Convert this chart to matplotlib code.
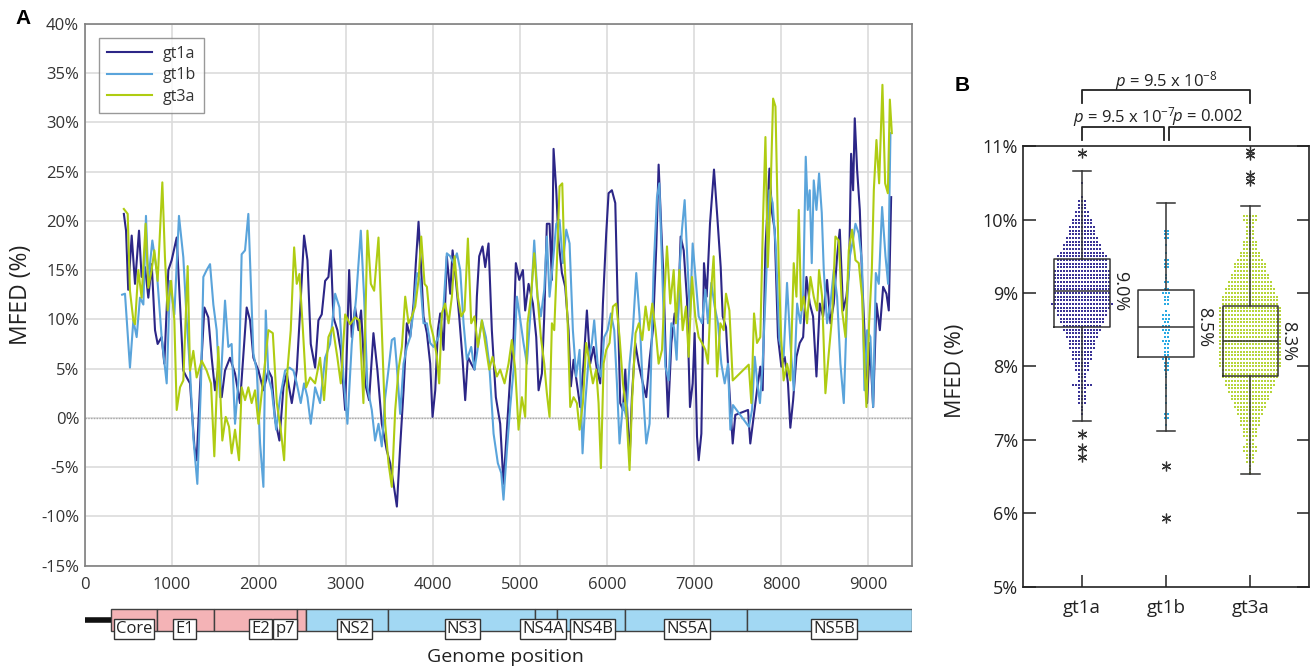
import numpy as np
import matplotlib
matplotlib.use("Agg")
import matplotlib.pyplot as plt

plt.rcParams["font.family"] = ["Open Sans", "DejaVu Sans"]
plt.rcParams["mathtext.fontset"] = "custom"
plt.rcParams["mathtext.rm"] = "Open Sans"
plt.rcParams["mathtext.it"] = "Open Sans:italic"

# ---------------- panel A: MFED along the genome ----------------
gt1a_pos = [450, 475, 500, 540, 578, 624, 654, 693, 731, 770, 808, 838, 884, 915, 961, 999, 1057, 1095,
            1133, 1172, 1210, 1260, 1286, 1325, 1375, 1420, 1459, 1497, 1535, 1574, 1612, 1669, 1727, 1784,
            1861, 1900, 1938, 1996, 2053, 2111, 2149, 2187, 2237, 2283, 2321, 2379, 2436, 2475, 2520, 2559,
            2597, 2647, 2685, 2723, 2762, 2800, 2827, 2857, 2903, 2942, 2992, 3038, 3068, 3106, 3145, 3175,
            3221, 3267, 3317, 3363, 3413, 3470, 3509, 3548, 3586, 3624, 3663, 3701, 3739, 3778, 3804, 3835,
            3866, 3892, 3931, 3969, 3996, 4027, 4057, 4084, 4122, 4160, 4199, 4226, 4264, 4302, 4341, 4371,
            4402, 4440, 4478, 4505, 4532, 4570, 4601, 4639, 4677, 4723, 4773, 4811, 4850, 4888, 4927, 4953,
            4992, 5034, 5060, 5099, 5149, 5187, 5214, 5252, 5279, 5309, 5340, 5367, 5386, 5417, 5443, 5482,
            5520, 5558, 5585, 5616, 5654, 5692, 5731, 5769, 5807, 5846, 5884, 5922, 5953, 5991, 6018, 6056,
            6095, 6121, 6152, 6183, 6210, 6236, 6259, 6286, 6324, 6363, 6412, 6451, 6489, 6527, 6566, 6593,
            6624, 6651, 6678, 6701, 6739, 6777, 6815, 6846, 6881, 6919, 6953, 6984, 7007, 7034, 7053, 7084,
            7114, 7145, 7183, 7229, 7267, 7306, 7329, 7367, 7406, 7444, 7474, 7620, 7646, 7685, 7723, 7761,
            7788, 7819, 7866, 7896, 7926, 7964, 8003, 8041, 8079, 8106, 8138, 8176, 8214, 8253, 8291, 8329,
            8367, 8406, 8444, 8482, 8528, 8567, 8605, 8643, 8674, 8712, 8750, 8781, 8804, 8827, 8846, 8873,
            8904, 8930, 8957, 8988, 9019, 9057, 9095, 9134, 9172, 9210, 9237, 9264]
gt1a_val = [20.7, 19.0, 13.0, 18.5, 13.6, 19.0, 14.3, 15.3, 12.2, 15.6, 8.9, 7.5, 8.2, 5.5, 15.0, 16.0, 18.3, 11.5,
            4.8, 4.1, 3.5, -2.9, -4.3, 3.1, 11.2, 10.2, 6.1, 2.8, 5.1, 2.1, 4.8, 6.1, 4.5, 1.5,
            11.2, 9.9, 6.1, 4.8, 2.8, 4.8, 4.1, -0.2, -2.3, 3.1, 4.5, 1.5, 4.8, 10.9, 18.5, 16.0,
            7.5, 5.1, 9.9, 10.5, 13.9, 14.3, 17.0, 10.2, 8.9, 6.8, 0.8, 15.0, 8.2, 11.2, 8.9, 10.9,
            3.5, 1.8, 8.6, 4.8, -0.6, -3.3, -4.6, -6.7, -9.0, -2.9, 2.8, 9.6, 8.2, 11.6, 15.7, 19.9,
            15.0, 10.3, 8.6, 5.5, 0.1, 2.8, 8.9, 10.6, 6.9, 16.4, 12.6, 17.0, 14.0, 10.3, 5.9, 1.8,
            6.2, 5.5, 4.9, 12.3, 16.4, 17.4, 15.3, 17.7, 8.9, 2.1, -0.6, -6.7, -1.2, 4.2, 8.2, 15.7,
            14.0, 15.0, 10.9, 13.6, 11.6, 8.2, 2.8, 4.5, 10.3, 19.7, 19.7, 14.0, 27.3, 23.1, 18.0, 14.7,
            13.3, 8.9, 3.2, 5.9, 3.5, 1.1, 5.5, 10.9, 5.5, 7.2, 4.9, 3.5, 11.6, 18.7, 22.8, 23.1,
            21.8, 12.3, 1.5, 0.8, 4.9, 0.1, -4.3, 2.1, 7.6, 5.5, 3.5, 2.1, 5.9, 8.9, 17.4, 25.7,
            19.1, 13.7, 5.2, 0.1, 7.6, 10.6, 10.3, 18.4, 17.0, 12.0, 1.1, 3.5, 8.6, -1.9, -4.3, -1.6,
            15.7, 12.3, 19.7, 25.2, 20.4, 15.3, 10.3, 9.2, 2.8, -2.6, 0.3, 0.8, -2.6, 0.1, 2.8, 5.2,
            2.8, 17.0, 25.3, 20.8, 19.1, 8.2, 5.2, 6.2, 3.5, -1.0, 1.8, 6.2, 7.6, 8.2, 14.3, 11.6,
            10.3, 4.2, 11.6, 10.3, 14.0, 9.6, 11.6, 16.4, 19.1, 10.9, 12.3, 15.0, 26.8, 23.1, 30.4, 25.2,
            21.1, 14.3, 8.9, 1.5, 7.6, 1.1, 11.6, 8.9, 13.3, 12.6, 10.9, 22.4]

gt1b_pos = [430, 463, 520, 559, 597, 635, 674, 704, 731, 777, 827, 884, 942, 980, 1030, 1083, 1133, 1172,
            1210, 1248, 1294, 1336, 1363, 1401, 1440, 1478, 1516, 1554, 1612, 1650, 1688, 1727, 1773, 1803,
            1842, 1880, 1918, 1938, 1977, 2015, 2053, 2080, 2111, 2149, 2199, 2245, 2302, 2352, 2398, 2436,
            2482, 2520, 2559, 2597, 2647, 2704, 2762, 2819, 2877, 2927, 2973, 3018, 3068, 3118, 3172, 3210,
            3248, 3298, 3336, 3375, 3413, 3451, 3490, 3528, 3559, 3586, 3624, 3663, 3701, 3739, 3778, 3816,
            3854, 3892, 3931, 3969, 4007, 4065, 4122, 4160, 4199, 4237, 4276, 4314, 4352, 4390, 4440, 4478,
            4517, 4563, 4609, 4647, 4697, 4746, 4785, 4811, 4850, 4888, 4927, 4965, 5003, 5041, 5080, 5118,
            5164, 5202, 5240, 5279, 5309, 5340, 5378, 5417, 5455, 5493, 5532, 5570, 5608, 5646, 5685, 5719,
            5750, 5788, 5826, 5853, 5892, 5930, 5968, 6007, 6045, 6083, 6114, 6144, 6183, 6221, 6259, 6297,
            6336, 6374, 6412, 6451, 6489, 6535, 6574, 6601, 6639, 6670, 6708, 6739, 6769, 6800, 6838, 6861,
            6892, 6923, 6953, 6984, 7022, 7053, 7091, 7130, 7160, 7198, 7237, 7275, 7313, 7352, 7390, 7417,
            7447, 7630, 7666, 7697, 7727, 7757, 7788, 7827, 7865, 7903, 7941, 7980, 8029, 8068, 8106, 8145,
            8184, 8222, 8253, 8283, 8306, 8329, 8352, 8375, 8406, 8436, 8467, 8490, 8528, 8567, 8605, 8643,
            8681, 8720, 8758, 8789, 8819, 8854, 8892, 8930, 8957, 8988, 9026, 9057, 9088, 9122, 9160, 9199,
            9229, 9256]
gt1b_val = [12.5, 12.6, 5.1, 9.9, 8.2, 12.2, 11.5, 20.5, 13.9, 18.0, 15.0, 8.2, 3.5, 13.9, 10.5, 20.5, 16.3, 9.9,
            4.8, -2.0, -6.7, 3.5, 14.3, 15.0, 15.6, 11.5, 8.9, 2.1, 11.9, 7.2, 7.5, -0.6, 4.5, 16.6,
            17.0, 20.7, 11.5, 6.5, 4.8, -2.6, -7.0, 10.9, 4.1, 2.8, -1.2, 2.1, 4.8, 5.1, 4.8, 3.5,
            1.5, 3.5, 2.1, -0.6, 3.1, 1.5, 6.1, 7.5, 12.6, 11.2, 4.1, -0.6, 7.5, 12.2, 19.0, 12.2,
            3.1, 0.8, -2.3, -0.6, -2.9, 2.0, 4.9, 7.9, 8.1, 5.2, 0.4, 5.5, 7.2, 8.2, 10.9, 14.7,
            14.0, 9.6, 9.6, 7.6, 7.2, 8.2, 11.3, 16.7, 16.4, 15.7, 16.7, 15.0, 9.6, 5.9, 7.2, 4.9,
            7.2, 9.9, 8.2, 5.5, -1.6, -4.6, -5.6, -8.3, -3.3, 1.1, 4.9, 12.3, 10.0, 7.6, 5.5, 10.3,
            18.0, 12.3, 10.3, 13.0, 18.4, 12.3, 15.7, 19.7, 20.1, 15.7, 19.1, 17.7, 8.9, 4.2, 6.9, -3.6,
            1.5, 5.9, 7.6, 9.9, 5.5, 4.2, 8.2, 8.9, 10.6, 8.9, 3.5, -2.6, 1.5, 0.1, 5.5, 8.9,
            14.7, 10.3, 2.8, -2.6, -0.6, 15.0, 22.4, 23.8, 13.7, 5.2, 3.8, 9.6, 9.2, 5.9, 15.7, 19.1,
            22.1, 16.0, 10.3, 17.7, 13.7, 10.3, 9.6, 13.0, 9.6, 13.7, 11.3, 9.6, 5.5, 3.5, 5.5, -1.2,
            1.3, -0.9, 0.8, 6.2, 3.5, 1.5, 5.5, 13.7, 23.1, 21.8, 17.0, 7.9, 6.2, 13.7, 7.6, 2.8,
            11.6, 9.6, 12.3, 26.5, 21.1, 23.1, 15.7, 24.1, 21.1, 24.8, 20.8, 15.0, 9.6, 11.6, 15.0, 12.3,
            5.5, 1.5, 11.6, 16.4, 17.7, 19.7, 18.7, 15.7, 2.8, 8.9, 8.2, 1.1, 14.7, 13.6, 21.4, 16.4,
            13.6, 28.9]

gt3a_pos = [450, 494, 520, 559, 578, 616, 654, 700, 731, 769, 800, 838, 892, 922, 953, 992, 1030, 1057,
            1095, 1133, 1183, 1210, 1248, 1286, 1344, 1401, 1451, 1489, 1535, 1581, 1620, 1658, 1688, 1727,
            1773, 1803, 1842, 1880, 1918, 1957, 1996, 2053, 2111, 2161, 2207, 2252, 2291, 2329, 2367, 2406,
            2436, 2467, 2505, 2544, 2590, 2647, 2704, 2750, 2800, 2850, 2903, 2942, 2992, 3049, 3106, 3156,
            3202, 3248, 3287, 3325, 3375, 3413, 3452, 3490, 3528, 3567, 3605, 3644, 3682, 3720, 3758, 3797,
            3835, 3866, 3904, 3931, 3969, 4007, 4046, 4072, 4103, 4141, 4180, 4218, 4249, 4287, 4325, 4364,
            4402, 4440, 4478, 4517, 4563, 4601, 4647, 4685, 4735, 4773, 4823, 4869, 4907, 4946, 4984, 5022,
            5060, 5087, 5126, 5164, 5202, 5240, 5279, 5309, 5340, 5367, 5394, 5424, 5455, 5486, 5509, 5547,
            5578, 5616, 5654, 5685, 5723, 5761, 5800, 5838, 5876, 5903, 5930, 5961, 5991, 6029, 6068, 6106,
            6144, 6183, 6221, 6259, 6290, 6328, 6366, 6405, 6443, 6481, 6520, 6558, 6593, 6632, 6662, 6689,
            6727, 6766, 6792, 6831, 6869, 6907, 6938, 6976, 7014, 7053, 7091, 7130, 7160, 7191, 7225, 7264,
            7302, 7340, 7367, 7406, 7444, 7628, 7658, 7689, 7723, 7761, 7793, 7820, 7847, 7876, 7908, 7935,
            7973, 8000, 8029, 8068, 8106, 8145, 8176, 8203, 8230, 8260, 8298, 8337, 8375, 8413, 8436, 8471,
            8509, 8547, 8586, 8624, 8662, 8701, 8739, 8777, 8815, 8854, 8892, 8930, 8957, 8980, 9011, 9042,
            9065, 9095, 9126, 9164, 9195, 9226, 9249, 9272]
gt3a_val = [21.2, 20.7, 12.9, 9.9, 9.5, 15.0, 12.2, 19.7, 13.2, 15.0, 17.0, 13.9, 23.9, 16.3, 10.9, 13.9, 9.9, 0.8,
            3.1, 3.8, 15.4, 4.8, 6.8, 4.1, 5.8, 4.8, 3.5, -3.9, 7.2, -2.3, 0.1, -0.9, -3.6, -1.2,
            -4.3, 3.1, 1.8, 3.1, 1.5, 2.8, -0.6, 4.1, 8.9, 8.6, 1.5, -1.2, -4.3, 4.8, 8.9, 17.3,
            13.6, 14.6, 9.2, 3.1, 4.1, 3.5, 6.1, 1.8, 8.2, 9.2, 6.1, 3.5, 10.5, 9.5, 10.2, 9.9,
            1.5, 19.0, 13.6, 12.9, 18.3, 8.9, -0.6, -4.6, -7.0, 0.8, 4.9, 7.2, 12.3, 9.6, 10.3, 11.3,
            14.0, 18.4, 13.6, 13.3, 9.6, 8.2, 6.2, 3.5, 10.6, 11.6, 9.6, 12.3, 16.4, 12.3, 10.3, 10.9,
            18.2, 9.6, 10.3, 7.2, 9.9, 7.6, 4.9, 6.2, 4.2, 4.9, 3.5, 5.5, 7.9, 4.9, -1.2, 2.1,
            0.1, 9.6, 12.3, 16.7, 12.3, 8.2, 5.5, 2.5, 0.1, 9.6, 8.9, 15.7, 23.5, 23.8, 16.4, 9.9,
            1.1, 2.1, 1.5, -1.2, 1.5, 7.6, 5.5, 3.5, 4.9, 1.5, -5.1, 5.5, 6.9, 7.6, 11.3, 11.6,
            8.2, 3.5, 0.8, -5.3, 2.1, 8.6, 9.6, 7.9, 11.3, 8.9, 11.6, 8.9, 5.5, 6.9, 13.0, 17.4,
            11.6, 15.0, 9.6, 15.0, 8.9, 11.3, 6.2, 14.3, 10.3, 8.2, 7.6, 6.9, 5.5, 12.3, 16.4, 4.2,
            9.6, 8.9, 12.6, 10.9, 3.8, 5.4, 1.5, 10.6, 7.6, 8.2, 20.4, 28.5, 15.3, 22.0, 32.4, 31.6,
            15.3, 8.2, 3.8, 5.5, 3.8, 15.7, 12.3, 21.1, 10.9, 12.3, 9.6, 14.3, 12.3, 10.9, 15.0, 12.3,
            2.5, 6.5, 10.3, 18.4, 18.0, 10.9, 8.2, 17.0, 19.1, 16.0, 15.7, 12.3, 5.5, 1.1, 9.6, 15.0,
            23.1, 28.2, 23.8, 33.8, 23.8, 22.8, 32.3, 28.9]

genome_ticks = [0, 1000, 2000, 3000, 4000, 5000, 6000, 7000, 8000, 9000]
mfed_ticks = [-15, -10, -5, 0, 5, 10, 15, 20, 25, 30, 35, 40]

gene_names = ["Core", "E1", "E2", "p7", "NS2", "NS3", "NS4A", "NS4B", "NS5A", "NS5B"]
gene_start = [303, 827, 1486, 2437, 2544, 3483, 5172, 5425, 6203, 7605]
gene_end = [827, 1486, 2437, 2544, 3483, 5172, 5425, 6203, 7605, 9500]
gene_label_pos = [570, 1147, 2021, 2302, 3095, 4337, 5268, 5834, 6920, 8605]
structural = [True, True, True, True, False, False, False, False, False, False]

# ---------------- panel B: box plots ----------------
groups = ["gt1a", "gt1b", "gt3a"]
box_q1 = [8.54, 8.13, 7.87]
box_med = [9.03, 8.54, 8.35]
box_q3 = [9.46, 9.04, 8.82]
whisk_lo = [7.26, 7.12, 6.54]
whisk_hi = [10.66, 10.23, 10.19]
fliers = [[10.91, 7.08, 6.89, 6.77], [6.64, 5.94], [10.93, 10.88, 10.60, 10.52]]
median_labels = ["9.0%", "8.5%", "8.3%"]

# dot swarm: counts of sequences per 0.05 % row
gt1a_top = 10.50
gt1a_counts = [1, 0, 0, 0, 1, 3, 3, 3, 5, 5, 7, 7, 9, 9, 9, 11, 11, 13, 13, 15, 17, 17, 17, 17, 19, 19,
               19, 19, 19, 19, 19, 19, 19, 21, 19, 17, 17, 15, 15, 13, 13, 11, 11, 9, 9, 9, 7, 7, 7, 5,
               5, 5, 3, 3, 3, 7, 3, 3, 3, 3, 3, 1, 1, 1]
gt1b_levels = [9.85, 9.80, 9.75, 9.65, 9.55, 9.45, 9.40, 9.35, 9.25, 9.20, 9.15, 9.05, 9.00, 8.95, 8.90,
               8.85, 8.75, 8.70, 8.65, 8.60, 8.55, 8.50, 8.45, 8.40, 8.35, 8.30, 8.25, 8.20, 8.15, 8.10,
               8.05, 8.00, 7.95, 7.90, 7.85, 7.75, 7.70, 7.60, 7.50, 7.35, 7.30, 7.20]
gt1b_counts = [2, 2, 2, 1, 1, 2, 2, 2, 1, 1, 2, 2, 3, 2, 2, 2, 1, 3, 3, 2, 3, 3, 2, 2, 3, 2, 2, 2, 2, 3,
               2, 2, 2, 1, 1, 1, 1, 1, 1, 2, 2, 1]
gt3a_top = 10.05
gt3a_counts = [5, 5, 3, 3, 3, 3, 3, 5, 5, 5, 7, 7, 9, 11, 11, 11, 13, 13, 15, 15, 17, 17, 19, 19, 19, 21,
               21, 21, 21, 21, 21, 21, 21, 21, 21, 21, 21, 21, 21, 21, 21, 21, 19, 19, 19, 17, 17, 15, 15,
               13, 13, 11, 11, 9, 9, 7, 7, 7, 5, 5, 5, 3, 3, 5, 5, 3, 3, 3, 1, 1, 1]

c1a, c1b, c3a = "#2c2687", "#5aa4db", "#afcc12"
dot_cols = ["#3a3396", "#2aaae3", "#b7d53a"]

fig = plt.figure(figsize=(13.15, 6.7), dpi=100)

# ---- panel A ----
ax = fig.add_axes([0.0644, 0.1557, 0.6289, 0.8089])
ax.plot(gt1a_pos, gt1a_val, color=c1a, lw=1.5, label="gt1a", zorder=3)
ax.plot(gt1b_pos, gt1b_val, color=c1b, lw=1.5, label="gt1b", zorder=3)
ax.plot(gt3a_pos, gt3a_val, color=c3a, lw=1.5, label="gt3a", zorder=3)
ax.axhline(0, color="#a8a8a8", lw=1.0, ls=(0, (1, 1)), zorder=2)
ax.set_xlim(0, 9500)
ax.set_ylim(-15, 40)
ax.set_xticks(genome_ticks)
ax.set_yticks(mfed_ticks)
ax.set_yticklabels([f"{v}%" for v in mfed_ticks])
ax.grid(True, color="#dcdcdc", lw=1.2, zorder=0)
ax.set_axisbelow(True)
for s in ax.spines.values():
    s.set_color("#7f7f7f")
    s.set_linewidth(1.2)
ax.tick_params(length=0, labelsize=12, labelcolor="#333333")
ax.tick_params(axis="x", pad=8)
ax.tick_params(axis="y", pad=4)
ax.set_ylabel("MFED (%)", fontsize=16.5, color="#222222")
ax.yaxis.set_label_coords(-0.062, 0.5)
leg = ax.legend(loc="upper left", bbox_to_anchor=(0.0177, 0.974), borderaxespad=0, fontsize=11.5,
                fancybox=False, edgecolor="#808080", handlelength=2.8, handletextpad=0.7,
                labelspacing=0.35, borderpad=0.5)
leg.get_frame().set_linewidth(1.0)
for t in leg.get_texts():
    t.set_color("#333333")

# ---- genome map ----
axg = fig.add_axes([0.0644, 0.0373, 0.6289, 0.0672])
axg.set_xlim(0, 9500)
axg.set_ylim(0, 1)
axg.axis("off")
axg.plot([0, gene_start[0]], [0.56, 0.56], color="#111111", lw=4, solid_capstyle="butt")
for s0, s1, st in zip(gene_start, gene_end, structural):
    axg.barh(0.562, s1 - s0, left=s0, height=0.49, color="#f4b3b6" if st else "#a2d8f3",
             edgecolor="#404040", linewidth=1.0)
for name, p in zip(gene_names, gene_label_pos):
    axg.text(p, 0.35, name, ha="center", va="center", fontsize=12, color="#222222",
             bbox=dict(boxstyle="square,pad=0.12", fc="white", ec="#333333", lw=1.0))
fig.text(0.384, 0.019, "Genome position", ha="center", va="center", fontsize=14, color="#222222")

# ---- panel B ----
axb = fig.add_axes([0.778, 0.1243, 0.2177, 0.6577])
dot_dx = 0.0356
swarms = [
    (np.round(gt1a_top - 0.05 * np.arange(len(gt1a_counts)), 2), gt1a_counts),
    (np.array(gt1b_levels), gt1b_counts),
    (np.round(gt3a_top - 0.05 * np.arange(len(gt3a_counts)), 2), gt3a_counts),
]
for i, (lv, ct) in enumerate(swarms):
    xs, ys = [], []
    for y, n in zip(lv, ct):
        for k in range(n):
            xs.append(i + 1 + (k - (n - 1) / 2) * dot_dx)
            ys.append(y)
    axb.plot(xs, ys, "s", ms=1.5, mew=0, color=dot_cols[i], zorder=1)

stats = []
for i, g in enumerate(groups):
    stats.append(dict(label=g, q1=box_q1[i], med=box_med[i], q3=box_q3[i],
                      whislo=whisk_lo[i], whishi=whisk_hi[i], fliers=fliers[i]))
line_kw = dict(color="#333333", lw=1.1)
axb.bxp(stats, positions=[1, 2, 3], widths=0.66, capwidths=0.22, showfliers=True,
        boxprops=line_kw, medianprops=line_kw, whiskerprops=line_kw, capprops=line_kw,
        flierprops=dict(marker=(6, 2, 0), ms=7, mec="#333333", mew=0.9, ls="none"))
for i, lab in enumerate(median_labels):
    axb.text(i + 1.45, box_med[i], lab, rotation=-90, ha="center", va="center", fontsize=13,
             color="#222222")

axb.set_xlim(0.3, 3.7)
axb.set_ylim(5, 11)
axb.set_yticks([5, 6, 7, 8, 9, 10, 11])
axb.set_yticklabels([f"{v}%" for v in range(5, 12)])
axb.set_xticks([1, 2, 3])
axb.set_xticklabels(groups)
axb.tick_params(direction="in", length=9, width=1.1, labelsize=13, labelcolor="#222222",
                right=True, color="#222222")
axb.tick_params(axis="x", pad=9, labelsize=13.5)
for s in axb.spines.values():
    s.set_color("#222222")
    s.set_linewidth(1.2)
axb.set_ylabel("MFED (%)", fontsize=15.5, color="#222222")
axb.yaxis.set_label_coords(-0.2, 0.49)

# significance brackets
bk = dict(color="#222222", lw=1.3, clip_on=False)
axb.plot([1, 1, 3, 3], [11.59, 11.76, 11.76, 11.59], **bk)
axb.plot([1, 1, 1.97, 1.97], [11.08, 11.26, 11.26, 11.08], **bk)
axb.plot([2.03, 2.03, 3, 3], [11.08, 11.26, 11.26, 11.08], **bk)
axb.text(2, 11.88, r"$p$ = 9.5 x 10$^{-8}$", ha="center", va="center", fontsize=12, color="#222222")
axb.text(1.5, 11.40, r"$p$ = 9.5 x 10$^{-7}$", ha="center", va="center", fontsize=12, color="#222222")
axb.text(2.5, 11.40, r"$p$ = 0.002", ha="center", va="center", fontsize=12, color="#222222")

fig.text(0.012, 0.973, "A", fontsize=15, fontweight="bold", family="Liberation Sans", va="center")
fig.text(0.726, 0.873, "B", fontsize=15, fontweight="bold", family="Liberation Sans", va="center")

fig.savefig("out.png", dpi=100)
